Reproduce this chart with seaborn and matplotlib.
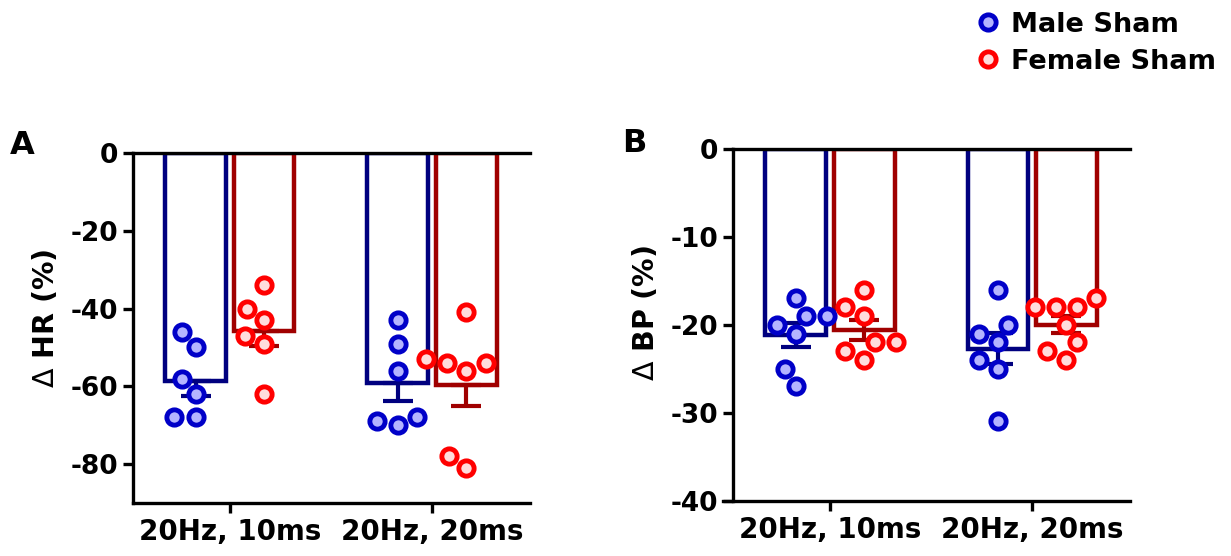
import numpy as np
import pandas as pd
import matplotlib.pyplot as plt
import seaborn as sns
from matplotlib.lines import Line2D

conditions = ['20Hz, 10ms', '20Hz, 20ms']
groups = ['Male Sham', 'Female Sham']

# panel A: delta HR (%)
hr_male_10 = [-50, -46, -58, -62, -68, -68]
hr_female_10 = [-34, -40, -43, -47, -49, -62]
hr_male_20 = [-43, -49, -56, -68, -69, -70]
hr_female_20 = [-41, -54, -54, -56, -53, -78, -81]

# panel B: delta BP (%)
bp_male_10 = [-19, -17, -19, -20, -21, -25, -27]
bp_female_10 = [-16, -18, -19, -22, -22, -23, -24]
bp_male_20 = [-16, -21, -20, -22, -24, -25, -31]
bp_female_20 = [-17, -18, -18, -18, -20, -22, -23, -24]

bar_colors = {'Male Sham': '#00007f', 'Female Sham': '#a00000'}
face_colors = {'Male Sham': '#b4b4ff', 'Female Sham': '#ffdcdc'}
edge_colors = {'Male Sham': '#0000c8', 'Female Sham': '#ff0000'}
group_offset = {'Male Sham': -0.17, 'Female Sham': 0.17}


def make_df(m10, f10, m20, f20):
    rows = []
    for cond, g, vals in [(conditions[0], groups[0], m10), (conditions[0], groups[1], f10),
                          (conditions[1], groups[0], m20), (conditions[1], groups[1], f20)]:
        for v in vals:
            rows.append((cond, g, v))
    df = pd.DataFrame(rows, columns=['cond', 'group', 'val'])
    df['xpos'] = df['cond'].map(conditions.index) + df['group'].map(group_offset)
    return df


sns.set_theme(style='ticks')
plt.rcParams['font.family'] = ['DejaVu Sans']
plt.rcParams['font.weight'] = 'bold'
plt.rcParams['axes.labelweight'] = 'bold'
plt.rcParams['mathtext.fontset'] = 'custom'
plt.rcParams['mathtext.rm'] = 'DejaVu Sans:weight=normal'
plt.rcParams['mathtext.default'] = 'rm'
plt.rcParams['axes.unicode_minus'] = False
for k in ['text.color', 'axes.labelcolor', 'xtick.color', 'ytick.color']:
    plt.rcParams[k] = 'black'


def panel(ax, df, ylim, yticks, ylabel, both_sides, label_y):
    sns.barplot(data=df, x='cond', y='val', hue='group', order=conditions, hue_order=groups,
                fill=False, errorbar=None, width=0.68, gap=0.12, linewidth=3.2,
                palette=bar_colors, legend=False, ax=ax)
    stats = df.groupby(['cond', 'group'])['val'].agg(['mean', 'sem'])
    for i, c in enumerate(conditions):
        for j, g in enumerate(groups):
            p = ax.patches[j * len(conditions) + i]
            x = p.get_x() + p.get_width() / 2
            m, s = stats.loc[(c, g)]
            yerr = [[s], [s]] if both_sides else [[s], [0]]
            ax.errorbar([x], [m], yerr=yerr, color=bar_colors[g], elinewidth=3,
                        capsize=10.5, capthick=3, fmt='none', zorder=3)
    for g in groups:
        sns.swarmplot(data=df[df.group == g], x='xpos', y='val', native_scale=True,
                      color=face_colors[g], edgecolor=edge_colors[g], linewidth=3.5,
                      size=11, ax=ax, zorder=4)
    ax.set_xticks(range(len(conditions)), conditions)
    ax.set_xlim(-0.48, 1.485)
    ax.set_ylim(*ylim)
    ax.set_yticks(yticks)
    ax.set_xlabel('')
    ax.set_ylabel(ylabel, fontsize=20.5)
    ax.yaxis.set_label_coords(-0.184, label_y)
    for side in ['left', 'bottom', 'top']:
        ax.spines[side].set_linewidth(2.4)
        ax.spines[side].set_color('black')
    ax.spines['right'].set_visible(False)
    ax.tick_params(axis='both', width=2.4, length=7, color='black', labelsize=19)
    ax.tick_params(axis='x', labelsize=20, pad=4)
    for t in ax.get_xticklabels() + ax.get_yticklabels():
        t.set_fontweight('bold')


fig = plt.figure(figsize=(12.31, 5.56), dpi=100)
axA = fig.add_axes([0.1080, 0.0953, 0.3225, 0.6295])
axB = fig.add_axes([0.5955, 0.0998, 0.3225, 0.6322])

panel(axA, make_df(hr_male_10, hr_female_10, hr_male_20, hr_female_20),
      (-90, 0), [0, -20, -40, -60, -80], r'$\Delta$ HR (%)', False, 0.529)
panel(axB, make_df(bp_male_10, bp_female_10, bp_male_20, bp_female_20),
      (-40, 0), [0, -10, -20, -30, -40], r'$\Delta$ BP (%)', True, 0.533)
axB.spines['bottom'].set_bounds(-0.53, 1.485)

fig.text(10 / 1231, 1 - 146 / 556, 'A', fontsize=23, fontweight='bold', va='center')
fig.text(622 / 1231, 1 - 143 / 556, 'B', fontsize=23, fontweight='bold', va='center')

handles = [Line2D([], [], marker='o', linestyle='none', markersize=11, markeredgewidth=3.5,
                  markerfacecolor=face_colors[g], markeredgecolor=edge_colors[g]) for g in groups]
fig.legend(handles, groups, loc='upper left', bbox_to_anchor=(961 / 1231, 1 - 1 / 556),
           frameon=False, handletextpad=0.25, labelspacing=0.4,
           handlelength=1.2, borderaxespad=0, prop={'weight': 'bold', 'size': 19.5})

fig.savefig('out.png', dpi=100)
